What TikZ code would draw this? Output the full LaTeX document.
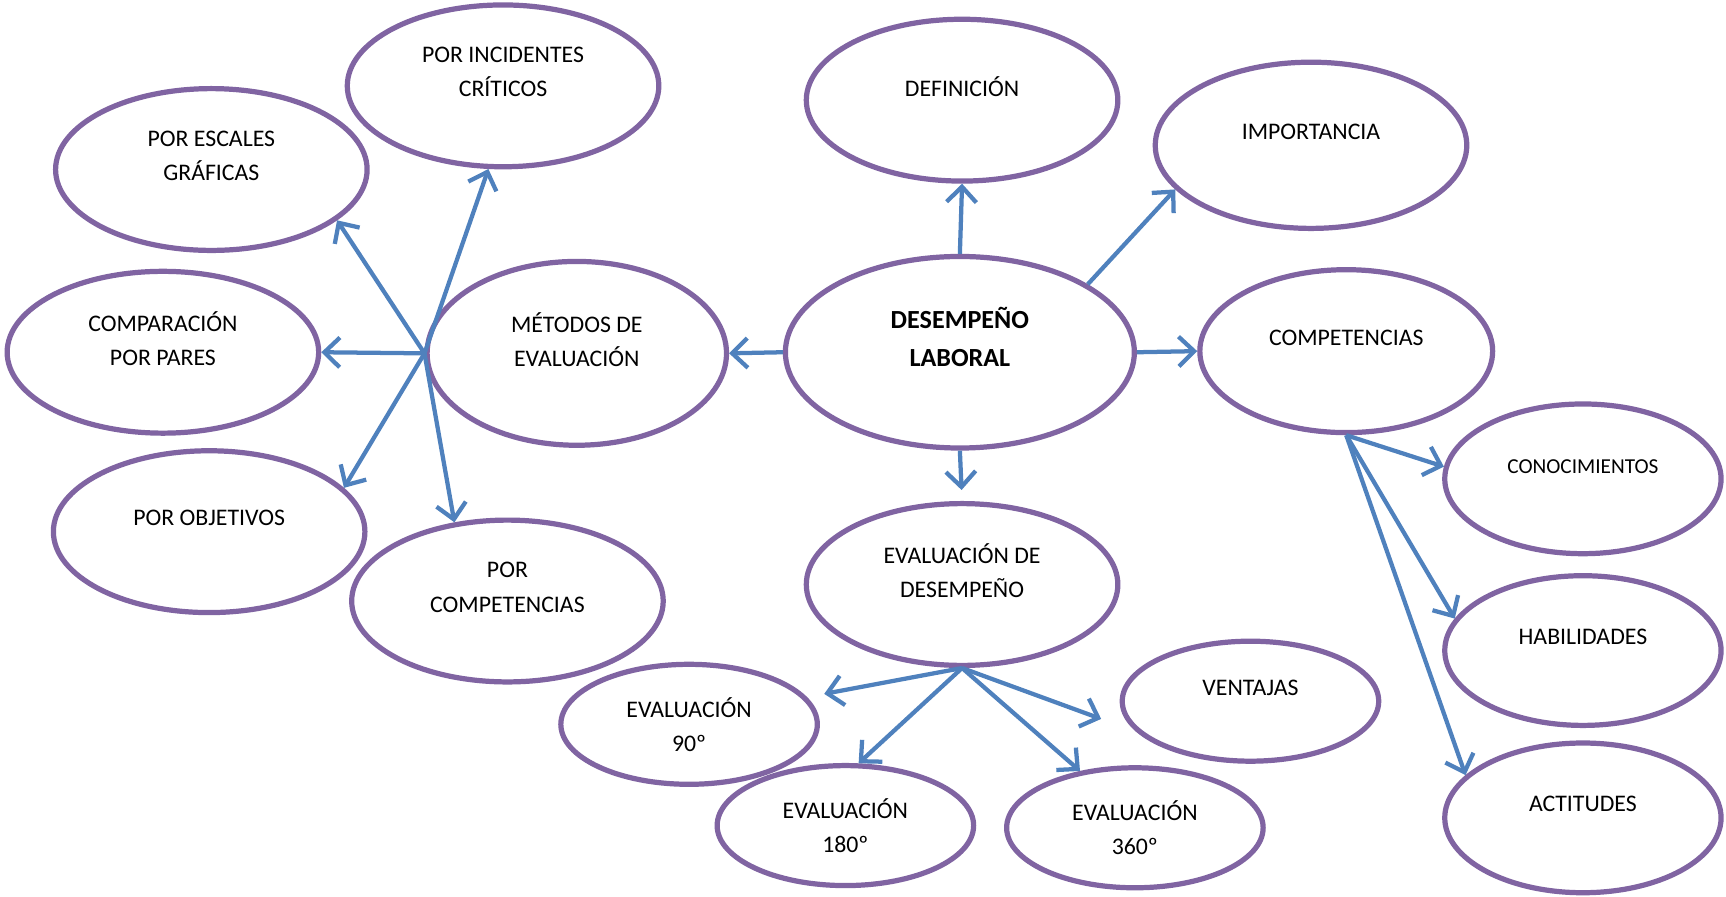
\documentclass[tikz,border=0pt]{standalone}
\usepackage{fontspec}
\setmainfont{Carlito}
\usepackage{tikz}
\usetikzlibrary{shapes.geometric,arrows.meta}

\definecolor{borde}{HTML}{8064A2}
\definecolor{flechaazul}{HTML}{4F81BD}
\newcommand{\vacio}{\\[-3.4pt]\mbox{}}

\tikzset{
	elipse/.style={shape=ellipse,draw=borde,line width=2.7pt,fill=white,text=black,
		inner sep=0pt,align=center,font=\fontsize{12.3}{17.6}\selectfont},
	grande/.style={elipse,minimum width=56.6mm,minimum height=29.4mm},
	media/.style={elipse,minimum width=50.2mm,minimum height=27.2mm},
	chica/.style={elipse,minimum width=46.6mm,minimum height=21.8mm},
	flecha/.style={color=flechaazul,line width=2.2pt,-{Straight Barb[length=2.8mm,width=5.4mm]}}
}

\begin{document}
\begin{tikzpicture}[x=0.2mm,y=-0.2mm]
	\path[use as bounding box] (0,0) rectangle (1568,814);
	
	\node[grande] (inc) at (457, 78)   {POR INCIDENTES\\CRÍTICOS\vacio};
	\node[grande] (esc) at (192, 154)  {POR ESCALES\\GRÁFICAS\vacio};
	\node[grande] (par) at (148, 320)  {COMPARACIÓN\\POR PARES\vacio};
	\node[grande] (obj) at (190, 483)  {POR OBJETIVOS\vacio};
	\node[grande] (pco) at (461, 546)  {POR\\COMPETENCIAS\vacio};
	\node[elipse,minimum width=54.4mm,minimum height=33.4mm] (met) at (524, 321) {MÉTODOS DE\\EVALUACIÓN\vacio};
	\node[elipse,minimum width=63.4mm,minimum height=34.8mm,font=\fontsize{13.5}{19.3}\selectfont\bfseries] (des) at (872, 320) {DESEMPEÑO\\LABORAL\vacio};
	\node[grande] (def) at (874, 91)   {DEFINICIÓN\vacio};
	\node[grande,minimum height=30.2mm] (imp) at (1191, 132) {IMPORTANCIA\vacio};
	\node[elipse,minimum width=53.2mm,minimum height=29.6mm] (comp) at (1223, 319) {COMPETENCIAS\vacio};
	\node[media,font=\fontsize{11}{15.6}\selectfont] (con) at (1438, 435) {CONOCIMIENTOS\vacio};
	\node[media] (hab) at (1438, 591)  {HABILIDADES\vacio};
	\node[media] (act) at (1438, 743)  {ACTITUDES\vacio};
	\node[grande] (evd) at (874, 531)  {EVALUACIÓN DE\\DESEMPEÑO\vacio};
	\node[chica] (e90) at (626, 658)   {EVALUACIÓN\\90º};
	\node[chica] (ven) at (1136, 637)  {VENTAJAS\vacio};
	\node[chica] (e180) at (768, 750)  {EVALUACIÓN\\180º};
	\node[chica] (e360) at (1031, 752) {EVALUACIÓN\\360º};
	
	% metodos
	\path[flecha] (met.west) edge (esc.-22);
	\path[flecha] (met.west) edge (inc.260);
	\path[flecha] (met.west) edge (par.east);
	\path[flecha] (met.west) edge (obj.18);
	\path[flecha] (met.west) edge (pco.124);
	% desempeno
	\path[flecha] (des.west) edge (met.east);
	\path[flecha] (des.north) edge (def.south);
	\path[flecha] (des.28) edge (imp.198);
	\path[flecha] (des.east) edge (comp.west);
	\path[flecha] (des.south) edge[shorten >=2mm] (evd.north);
	% competencias
	\path[flecha] (comp.south) edge (con.175);
	\path[flecha] (comp.south) edge (hab.166);
	\path[flecha] (comp.south) edge (act.160);
	% evaluacion
	\path[flecha] (evd.south) edge[shorten >=3.2mm] (e90.13);
	\path[flecha] (evd.south) edge (e180.78);
	\path[flecha] (evd.south) edge (e360.134);
	\path[flecha] (evd.south) edge[shorten >=6.8mm] (ven.195);
\end{tikzpicture}
\end{document}
